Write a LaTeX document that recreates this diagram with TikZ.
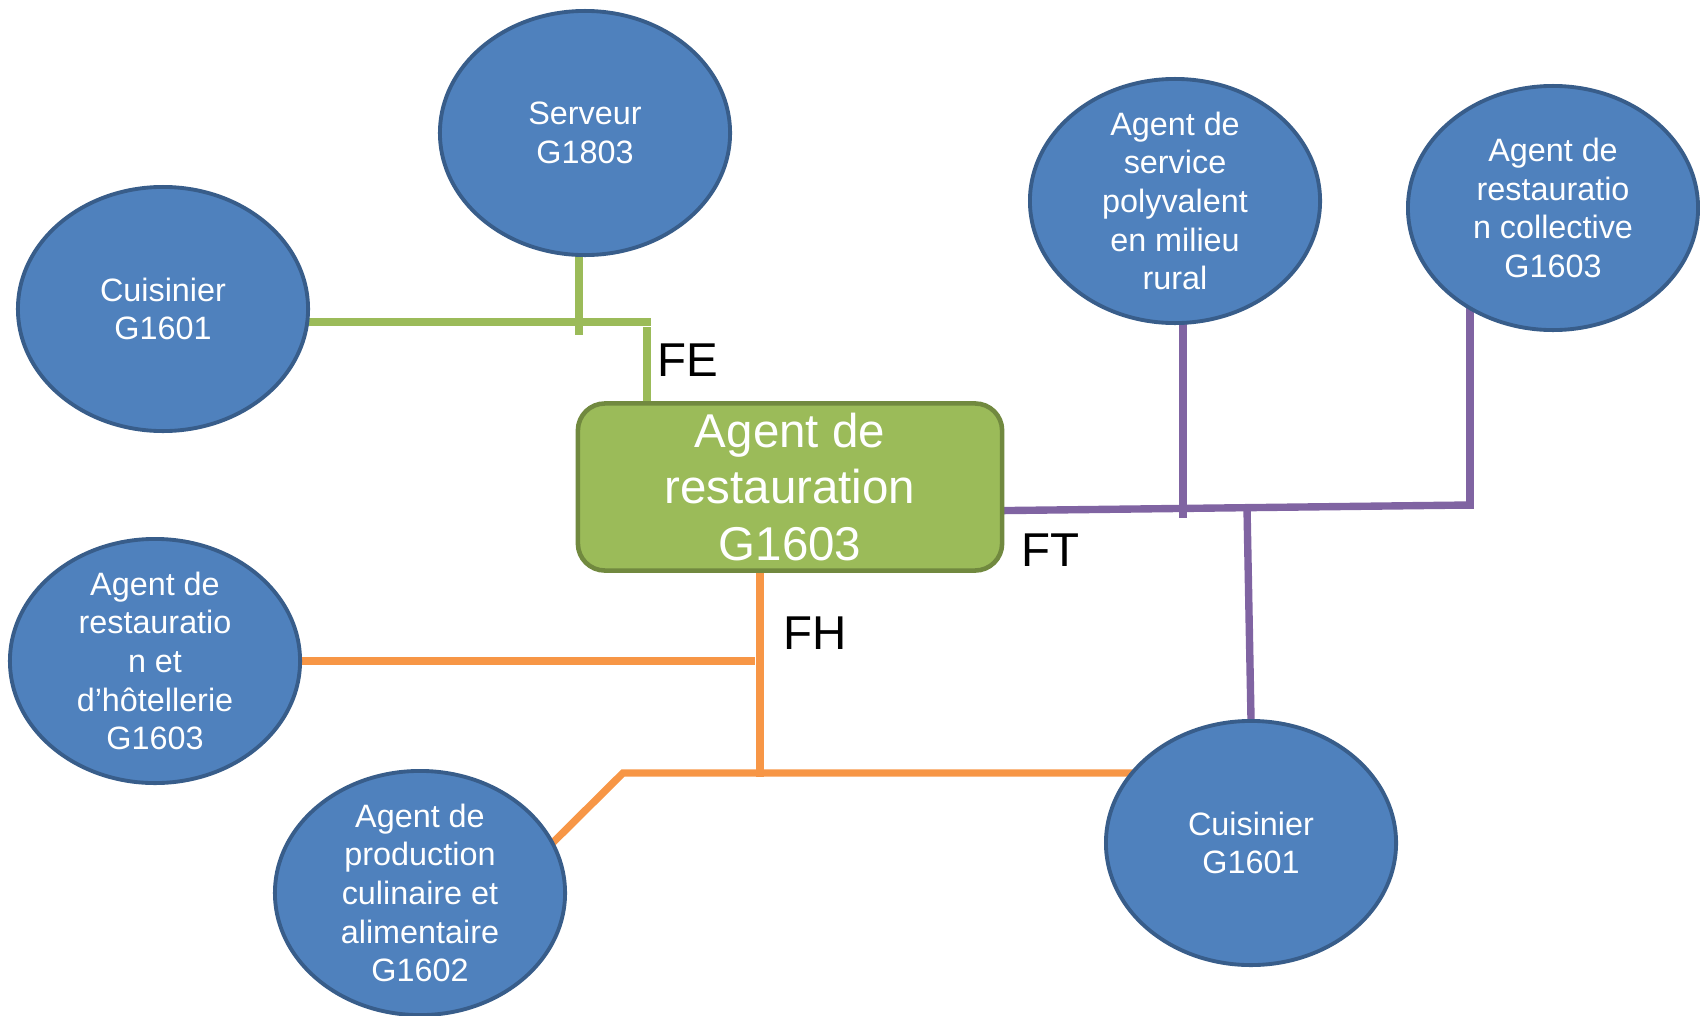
\documentclass[tikz,border=0pt]{standalone}
\usepackage{fontspec}
\setmainfont{Liberation Sans}
\usetikzlibrary{shapes, positioning}

\definecolor{bubblue}{HTML}{4F81BD}
\definecolor{bubedge}{HTML}{385D8A}
\definecolor{boxgreen}{HTML}{9BBB59}
\definecolor{boxedge}{HTML}{71893F}
\definecolor{lineviolet}{HTML}{8064A2}
\definecolor{lineorange}{HTML}{F79646}

\begin{document}
\begin{tikzpicture}[x=0.01cm, y=-0.01cm,
  bub/.style={ellipse, draw=bubedge, line width=1.1pt, fill=bubblue, minimum width=2.9cm, minimum height=2.44cm, inner sep=0pt},
  bubtext/.style={text=white, align=center, font=\fontsize{9.2}{11}\selectfont},
  mainbox/.style={rectangle, rounded corners=0.27cm, draw=boxedge, line width=1.3pt, fill=boxgreen, text=white, align=center, minimum width=4.24cm, minimum height=1.67cm, inner sep=0pt, font=\fontsize{13.5}{16.2}\selectfont},
  feline/.style={boxgreen, line width=2.1pt, line cap=rect},
  ftline/.style={lineviolet, line width=2.1pt, line cap=rect},
  fhline/.style={lineorange, line width=2.1pt, line cap=rect},
  famlabel/.style={font=\fontsize{13.5}{16}\selectfont}]

\pgfdeclarelayer{bg}    % lines go behind the bubbles
\pgfsetlayers{bg,main}

\useasboundingbox (0,0) rectangle (1700,1015);

% centre
\node (agent)[mainbox] at (790, 487) {Agent de\\restauration\\G1603};

% FE
\node (serveur)[bub, label={[bubtext]center:{Serveur\\G1803}}] at (585, 133) {};
\node (cuisA)[bub, label={[bubtext]center:{Cuisinier\\G1601}}] at (163, 309) {};
\node (fe)[famlabel] at (688, 360) {FE};

% FT
\node (polyv)[bub, label={[bubtext]center:{Agent de\\service\\polyvalent\\en milieu\\rural}}] at (1175, 201) {};
\node (collec)[bub, label={[bubtext]center:{Agent de\\restauratio\\n collective\\G1603}}] at (1553, 208) {};
\node (cuisB)[bub, label={[bubtext]center:{Cuisinier\\G1601}}] at (1251, 843) {};
\node (ft)[famlabel] at (1050, 550) {FT};

% FH
\node (hotel)[bub, label={[bubtext]center:{Agent de\\restauratio\\n et\\d’hôtellerie\\G1603}}] at (155, 661) {};
\node (prod)[bub, label={[bubtext]center:{Agent de\\production\\culinaire et\\alimentaire\\G1602}}] at (420, 893) {};
\node (fh)[famlabel] at (815, 633) {FH};

\begin{pgfonlayer}{bg}
\coordinate (feK) at (647, 322);
\draw[feline] (cuisA.east |- feK) -- (feK);
\draw[feline] ([xshift=-1.7pt]serveur.south) -- ++(0, 74);
\draw[feline] ([yshift=-2.5pt]feK) -- (feK |- agent.north);

\coordinate (ftR) at (1470, 505);
\coordinate (ftM) at (1247, 508);
\draw[ftline] ([yshift=-6.7pt]agent.east) -- (ftR);
\draw[ftline] ([xshift=2.3pt]polyv.south) -- ++(0, 189);
\draw[ftline] (collec.center -| ftR) -- (ftR);
\draw[ftline] (ftM) -- (cuisB.north);

\coordinate (fhB) at (760, 773);
\coordinate (fhH) at (751, 661);
\coordinate (fhK) at (623, 773);
\draw[fhline] (fhB |- agent.south) -- (fhB);
\draw[fhline] (hotel.east) -- (fhH);
\draw[fhline] (prod.21) -- (fhK) -- (cuisB.center |- fhK);
\end{pgfonlayer}
\end{tikzpicture}
\end{document}
